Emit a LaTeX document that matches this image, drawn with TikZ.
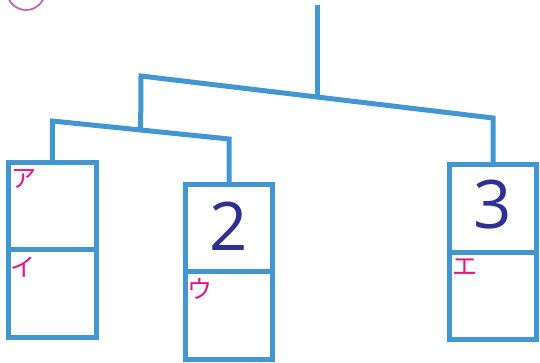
\documentclass[tikz,border=0pt]{standalone}
\usepackage{fontspec}
\usepackage{tikz}
\usetikzlibrary{positioning, calc}
\newfontfamily\digitfont{Open Sans}
\newfontfamily\jpfont{Noto Sans CJK JP}
\definecolor{treeblue}{RGB}{66,150,210}
\definecolor{digitnavy}{RGB}{46,49,146}
\definecolor{kanamag}{RGB}{230,20,130}
\definecolor{circpurple}{RGB}{185,105,185}
\tikzset{
  cell/.style={draw=treeblue, line width=5pt, minimum width=87.5pt, minimum height=87.5pt, outer sep=0pt, inner sep=0pt},
  branch/.style={draw=treeblue, line width=5pt},
  digit/.style={text=digitnavy, font=\digitfont\fontsize{67}{67}\selectfont},
  kana/.style={text=kanamag, font=\jpfont\fontsize{25}{25}\selectfont, anchor=center, inner sep=0pt}
}

\begin{document}
\begin{tikzpicture}[x=1pt, y=1pt]
\useasboundingbox (0,0) rectangle (540,-363);

% circled number, cut at the top
\node[circle, draw=circpurple, line width=1.8pt, minimum size=38pt] (num) at (26,9) {};

% left pair
\node[cell] (a1) at (52.25,-206) {};
\node[cell, below=0pt of a1] (a2) {};
\node[kana] (ka) at ($(a1.north west)+(15,-16.5)$) {ア};
\node[kana] (ki) at ($(a2.north west)+(14,-17.5)$) {イ};

% middle pair
\node[cell] (b1) at (229,-228) {};
\node[cell, below=0pt of b1] (b2) {};
\node[digit] (two) at ($(b1.center)+(0,2)$) {2};
\node[kana] (ku) at ($(b2.north west)+(15,-17.5)$) {ウ};

% right pair
\node[cell] (c1) at (493,-208.5) {};
\node[cell, below=0pt of c1] (c2) {};
\node[digit] (three) at ($(c1.center)+(0,4)$) {3};
\node[kana] (ke) at ($(c2.north west)+(16,-15)$) {エ};

% tree
\coordinate (ll) at (52.25,-121);
\coordinate (lr) at (229,-139);
\coordinate (ul) at (141,-76);
\coordinate (ur) at (493,-118);
\coordinate (root) at (317,-5);
\draw[branch] (a1.north) -- (ll) -- (lr) -- (b1.north);
\draw[branch] ($(ll)!0.5!(lr)$) -- (ul) -- (ur) -- (c1.north);
\draw[branch] ($(ul)!0.5!(ur)$) -- (root);
\end{tikzpicture}
\end{document}
